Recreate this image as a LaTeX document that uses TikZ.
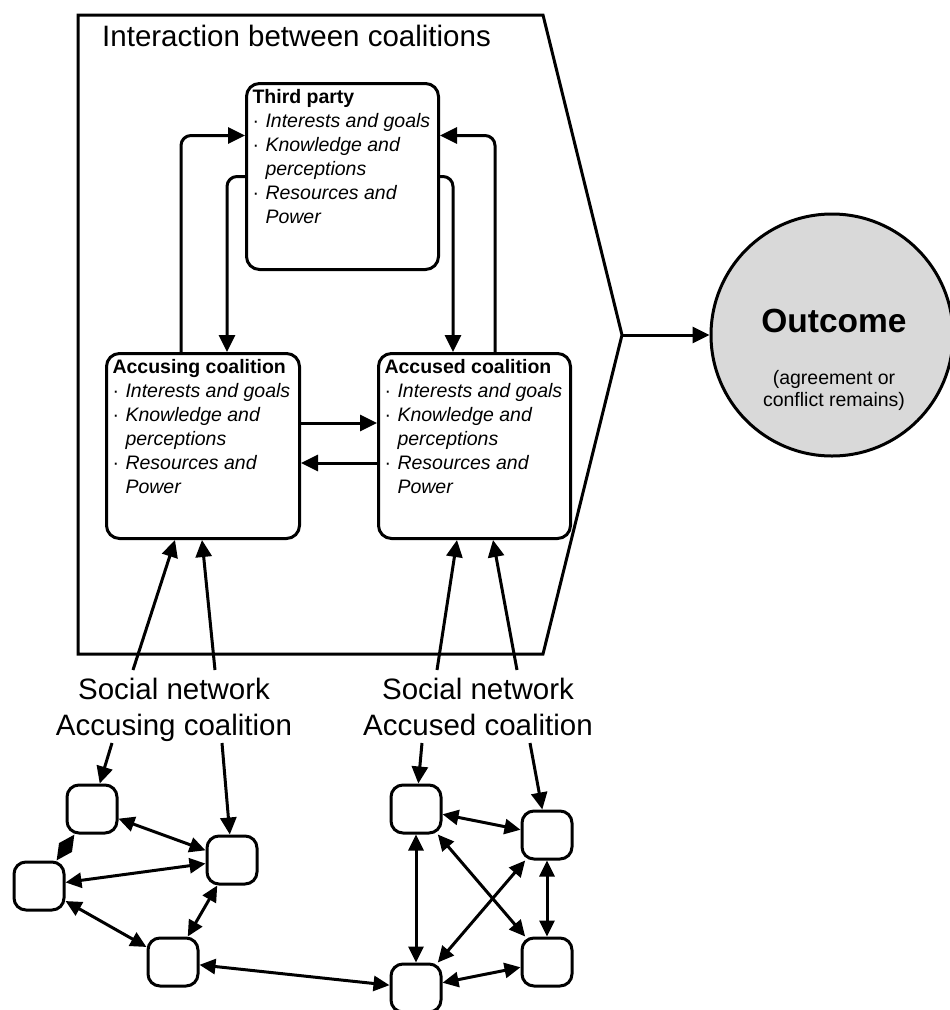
\documentclass[tikz,border=0pt]{standalone}
\usepackage{fontspec}
\setmainfont{Liberation Sans}
\usetikzlibrary{arrows.meta,calc}
\definecolor{outgray}{HTML}{D9D9D9}
\newcommand{\itm}[1]{\makebox[13pt][l]{·}\textit{#1}}
\newcommand{\cnt}[1]{\hspace*{13pt}\textit{#1}}
\newcommand{\boxcontent}[4]{\parbox[c][#1][t]{#2}{\raggedright\fontsize{19.5}{24}\selectfont\textbf{#3}\\
  \itm{Interests and goals}\\
  \itm{Knowledge and}\\
  \cnt{perceptions}\\
  \itm{Resources and}\\
  \cnt{Power}#4}}
\tikzset{
  ln/.style={line width=3pt},
  arr/.style={ln, -{Triangle[length=17pt,width=16pt]}},
  darr/.style={ln, {Triangle[length=16pt,width=15pt]}-{Triangle[length=16pt,width=15pt]}},
  cbox/.style={draw, ln, rounded corners=13pt, inner sep=6pt, anchor=north west},
  snode/.style={draw, ln, rounded corners=12pt, minimum width=50pt, minimum height=48pt, inner sep=0pt},
  bigtext/.style={font=\fontsize{29.5}{36}\selectfont, inner sep=0pt},
  rc/.style={rounded corners=10pt},
}
\begin{document}
\begin{tikzpicture}[x=1pt,y=-1pt]
\useasboundingbox (0,0) rectangle (950,1010);

% outer arrow-shaped frame
\coordinate (tip) at (622,335);
\draw[ln, line join=miter] (78,15) -- (543,15) -- (tip) -- (543,654) -- (78,654) -- cycle;
\node[bigtext, anchor=base west] (title) at (102,46) {Interaction between coalitions};

% coalition boxes
\node[cbox] (tp) at (245,82) {\boxcontent{174pt}{180pt}{Third party}{}};
\node[cbox] (acc) at (105,352) {\boxcontent{173pt}{181pt}{Accusing coalition}{}};
\node[cbox] (acd) at (377,352) {\boxcontent{173pt}{180pt}{Accused coalition}{}};

% connectors between boxes
\draw[arr, rc] ($(acc.north west)+(76,0)$) |- ($(tp.west)+(0,-41)$);
\draw[arr, rc] (tp.west) -| ($(acc.north west)+(122,0)$);
\draw[arr, rc] (tp.east) -| ($(acd.north west)+(76,0)$);
\draw[arr, rc] ($(acd.north west)+(118,0)$) |- ($(tp.east)+(0,-41)$);
\draw[arr] ($(acc.east)+(0,-23)$) -- ($(acd.west)+(0,-23)$);
\draw[arr] ($(acd.west)+(0,17)$) -- ($(acc.west -| acc.east)+(0,17)$);

% outcome
\node[draw, ln, circle, fill=outgray, minimum size=242pt, inner sep=0pt] (out) at (832,335) {};
\node[anchor=base, inner sep=0pt, font=\fontsize{33.5}{40}\selectfont\bfseries] (outt) at (834,332) {Outcome};
\node[anchor=north, inner sep=0pt, align=center, font=\fontsize{19.5}{22}\selectfont] (outs) at (834,370) {(agreement or\\conflict remains)};
\draw[arr] (tip) -- (out);

% social network labels
\node[bigtext, anchor=north, align=center] (lab1) at (174,678) {Social network\\Accusing coalition};
\node[bigtext, anchor=north, align=center] (lab2) at (478,678) {Social network\\Accused coalition};

\coordinate (u1) at (133,670);
\coordinate (u2) at (215,670);
\coordinate (u3) at (437,670);
\coordinate (u4) at (517,670);
\draw[arr] (u1) -- ($(acc.south west)+(70,0)$);
\draw[arr] (u2) -- ($(acc.south west)+(97,0)$);
\draw[arr] (u3) -- ($(acd.south west)+(80,0)$);
\draw[arr] (u4) -- ($(acd.south west)+(116,0)$);

% small network nodes
\node[snode] (A) at (92,809) {};
\node[snode] (B) at (39,886) {};
\node[snode] (C) at (232,860) {};
\node[snode] (D) at (173,962) {};
\node[snode] (E) at (416,809) {};
\node[snode] (F) at (547,835) {};
\node[snode] (G) at (547,962) {};
\node[snode] (H) at (416,988) {};

\coordinate (l1) at (112,743);
\coordinate (l2) at (222,743);
\coordinate (l3) at (422,743);
\coordinate (l4) at (530,743);
\draw[arr] (l1) -- (A);
\draw[arr] (l2) -- (C);
\draw[arr] (l3) -- (E);
\draw[arr] (l4) -- (F);

\draw[darr] (A) -- (B);
\draw[darr] (A) -- (C);
\draw[darr] (B) -- (C);
\draw[darr] (B) -- (D);
\draw[darr] (C) -- (D);
\draw[darr] (D) -- (H);
\draw[darr] (E) -- (F);
\draw[darr] (E) -- (H);
\draw[darr] (E) -- (G);
\draw[darr] (F) -- (H);
\draw[darr] (F) -- (G);
\draw[darr] (G) -- (H);
\end{tikzpicture}
\end{document}
